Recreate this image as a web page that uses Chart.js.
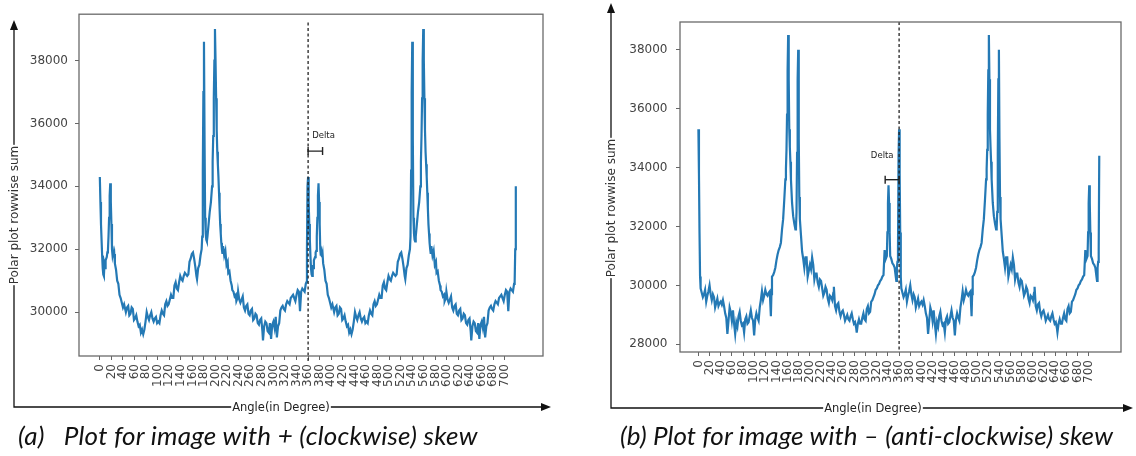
<!DOCTYPE html>
<html>
<head>
<meta charset="utf-8">
<script src="https://cdn.jsdelivr.net/npm/chart.js@4.4.1/dist/chart.umd.min.js"></script>
<style>
  body { margin: 0; background: #fff; }
  #wrap { position: relative; width: 1136px; height: 456px; background: #fff; overflow: hidden; }
  canvas { position: absolute; top: 0; }
  .cap { position: absolute; top: 420px; font-family: Lato, "Open Sans", sans-serif; font-style: italic;
         font-size: 26px; line-height: 30px; color: #111; white-space: nowrap; }
</style>
</head>
<body>
<div id="wrap">
  <canvas id="plotA" width="576" height="420" style="left:0"></canvas>
  <canvas id="plotB" width="560" height="420" style="left:576px"></canvas>
  <div class="cap" id="capA" style="left:18px;letter-spacing:0.25px">(a)<span style="margin-left:19px">Plot for image with + (clockwise) skew</span></div>
  <div class="cap" id="capB" style="left:620px;letter-spacing:0.1px">(b) Plot for image with – (anti-clockwise) skew</div>
</div>
<script>
// One turn (0-359 deg) of each signal.
// Both plots show the signal over two turns, so the second turn repeats the first.
const anglesA = [0, 1, 2, 3, 4, 5, 6, 7, 8, 9, 10, 12, 13, 14, 15, 16, 17, 18, 19, 20,
  21, 22, 23, 24, 25, 26, 28, 30, 32, 34, 36, 38, 40, 42, 45, 47, 49, 51, 53, 55,
  57, 59, 61, 63, 65, 67, 69, 71, 73, 75, 77, 79, 81, 83, 85, 87, 89, 91, 93, 95,
  97, 99, 101, 103, 105, 107, 109, 111, 113, 115, 117, 119, 121, 123, 125, 127, 129, 131, 133, 135,
  137, 139, 141, 143, 145, 147, 149, 151, 153, 155, 157, 159, 161, 163, 165, 167, 168, 170, 172, 174,
  176, 177, 178, 179, 180, 181, 182, 183, 184, 185, 186, 188, 190, 192, 194, 195, 196, 197, 198, 199,
  200, 201, 202, 203, 204, 205, 206, 207, 208, 209, 210, 211, 212, 213, 215, 217, 219, 221, 222, 224,
  226, 228, 229, 231, 233, 235, 236, 238, 239, 241, 243, 245, 247, 249, 251, 253, 255, 257, 259, 261,
  263, 265, 267, 269, 271, 273, 275, 277, 279, 281, 282, 284, 286, 288, 290, 292, 294, 296, 298, 300,
  302, 304, 306, 308, 310, 312, 314, 316, 318, 320, 322, 324, 326, 328, 330, 332, 334, 336, 338, 340,
  342, 344, 346, 348, 350, 352, 354, 356, 357, 358, 359];
const valuesA = [34300, 33500, 32800, 32300, 31800, 31400, 31200, 31150, 31500, 31400, 31650, 31750, 31900, 31950, 32400, 33000, 33700, 34100, 33500, 32800,
  32000, 31800, 31900, 31750, 31850, 31550, 31350, 31000, 30900, 30550, 30450, 30300, 30150, 30250, 30000, 30150, 30200, 29900, 29950, 30150,
  30100, 29750, 29800, 29900, 29700, 29550, 29600, 29350, 29450, 29300, 29450, 29700, 30000, 29850, 29750, 29900, 30000, 29800, 29700, 29800,
  29850, 29650, 29700, 29650, 29900, 30050, 29950, 29900, 30250, 30350, 30200, 30250, 30400, 30550, 30450, 30450, 30850, 30950, 30750, 30700,
  30950, 31150, 31050, 31000, 31150, 31250, 31200, 31150, 31200, 31600, 31700, 31850, 31900, 31700, 31450, 31150, 31050, 31400, 31500, 31800,
  32000, 32400, 34500, 37000, 38600, 35500, 33000, 32500, 32300, 32250, 32400, 32800, 33200, 33500, 34000, 34800, 35600, 36800, 38000, 39000,
  38000, 36800, 35800, 35100, 34700, 34300, 33800, 33300, 32800, 32500, 32200, 32000, 31850, 32100, 31800, 31950, 31500, 31600, 31250, 31300,
  31000, 30850, 30700, 30650, 30500, 30550, 30350, 30450, 30660, 30400, 30300, 30400, 30500, 30150, 30050, 30200, 30250, 29950, 29900, 30050,
  30100, 29750, 29800, 29950, 29900, 29650, 29600, 29750, 29800, 29400, 29100, 29550, 29700, 29650, 29400, 29350, 29650, 29150, 29600, 29700,
  29500, 29850, 29200, 29550, 29650, 30050, 30150, 30200, 30100, 30050, 30250, 30350, 30300, 30250, 30450, 30500, 30550, 30450, 30350, 30550,
  30700, 30650, 30030, 30650, 30750, 30700, 30650, 30900, 30950, 32000, 34000];

const anglesB = [0, 1, 2, 3, 4, 6, 8, 10, 12, 14, 16, 18, 20, 22, 24, 26, 28, 30, 32, 34,
  36, 38, 40, 42, 44, 46, 48, 50, 52, 54, 56, 58, 60, 62, 64, 66, 68, 70, 72, 74,
  76, 78, 80, 82, 84, 86, 88, 90, 92, 94, 96, 98, 100, 102, 104, 106, 108, 110, 112, 114,
  116, 118, 120, 122, 124, 126, 128, 130, 131, 132, 134, 136, 138, 140, 142, 144, 146, 148, 150, 152,
  154, 156, 157, 158, 159, 160, 161, 162, 163, 164, 165, 166, 168, 170, 172, 174, 175, 176, 177, 178,
  179, 180, 181, 182, 184, 186, 188, 190, 192, 194, 196, 198, 200, 202, 204, 206, 208, 210, 212, 214,
  216, 218, 220, 222, 224, 226, 228, 230, 232, 234, 236, 238, 240, 242, 243, 245, 247, 249, 251, 253,
  255, 257, 259, 261, 263, 265, 267, 269, 271, 273, 275, 277, 279, 281, 283, 284, 286, 288, 290, 292,
  294, 296, 298, 300, 302, 304, 306, 308, 310, 312, 314, 316, 318, 320, 322, 324, 326, 328, 330, 332,
  334, 336, 338, 339, 340, 341, 342, 343, 344, 346, 348, 350, 352, 354, 355, 356, 357, 358, 359];
const valuesB = [35300, 33800, 31800, 30300, 29900, 29750, 29600, 29700, 29850, 29450, 29650, 29800, 30000, 29700, 29500, 29700, 29600, 29250, 29400, 29550,
  29300, 29400, 29450, 29350, 29500, 29300, 29050, 28900, 28350, 28800, 29250, 29100, 28800, 29150, 28700, 28350, 28750, 28600, 28950, 29100,
  28800, 28650, 28700, 28400, 28850, 28950, 28700, 28750, 28950, 29150, 28900, 28800, 28300, 28850, 29050, 28900, 28800, 29250, 29500, 29800,
  29500, 29650, 29850, 29700, 29650, 29750, 29800, 28950, 29700, 30300, 30350, 30450, 30600, 30850, 31050, 31200, 31300, 31450, 31900, 32250,
  32900, 33600, 33950, 34600, 35800, 37300, 38500, 37000, 35300, 34700, 34200, 33600, 32800, 32350, 32100, 31900, 31950, 32500, 34500, 37000,
  38000, 35000, 33000, 32250, 31700, 31150, 30900, 30600, 30950, 30950, 30300, 30500, 30700, 30550, 30950, 30700, 30200, 30400, 30400, 30100,
  29950, 30200, 30150, 29900, 29650, 29750, 29950, 29850, 29550, 29400, 29650, 29600, 29500, 29750, 29950, 29300, 29150, 29350, 29400, 29100,
  28950, 29100, 29150, 29000, 28800, 28900, 29000, 28850, 28800, 28950, 29050, 28850, 28700, 28750, 28550, 28400, 28700, 28850, 28700, 28700,
  28900, 29050, 28850, 28800, 29200, 29300, 29050, 29100, 29450, 29500, 29600, 29700, 29850, 29900, 30000, 30050, 30150, 30200, 30300, 30350,
  31200, 30900, 31000, 31800, 32800, 33400, 32800, 31800, 31000, 30900, 30750, 30700, 30600, 30300, 30150, 30600, 30800, 31200, 34400];

// Delta markers: [start angle, end angle] and height
const deltaA = [360, 385];
const deltaAHeight = 35120;
const deltaB = [335, 360];
const deltaBHeight = 33590;

const xTicks = [0, 20, 40, 60, 80, 100, 120, 140, 160, 180, 200, 220, 240, 260, 280, 300, 320, 340,
  360, 380, 400, 420, 440, 460, 480, 500, 520, 540, 560, 580, 600, 620, 640, 660, 680, 700];
const yTicksA = [30000, 32000, 34000, 36000, 38000];
const yTicksB = [28000, 30000, 32000, 34000, 36000, 38000];

function twoTurns(angles, values) {
  const turn = angles.map((a, i) => ({ x: a, y: values[i] }));
  return turn.concat(turn.map(p => ({ x: p.x + 360, y: p.y })));
}

Chart.defaults.font.family = '"DejaVu Sans", sans-serif';
Chart.defaults.color = '#444';

// frame, hand-drawn axis arrows, axis titles and the "Delta" label
const figureDeco = {
  id: 'figureDeco',
  afterDraw(chart, args, o) {
    const { ctx, chartArea: a, scales: { x, y } } = chart;
    ctx.save();
    ctx.strokeStyle = '#6a6a6a';
    ctx.lineWidth = 1.3;
    ctx.strokeRect(a.left, a.top, a.right - a.left, a.bottom - a.top);

    ctx.strokeStyle = '#111';
    ctx.fillStyle = '#111';
    ctx.lineWidth = 1.3;
    ctx.beginPath();
    ctx.moveTo(o.axisX, o.arrowTop + 8);
    ctx.lineTo(o.axisX, o.axisY);
    ctx.lineTo(o.arrowRight - 8, o.axisY);
    ctx.stroke();
    ctx.beginPath();
    ctx.moveTo(o.axisX, o.arrowTop);
    ctx.lineTo(o.axisX - 4, o.arrowTop + 10);
    ctx.lineTo(o.axisX + 4, o.arrowTop + 10);
    ctx.closePath();
    ctx.fill();
    ctx.beginPath();
    ctx.moveTo(o.arrowRight, o.axisY);
    ctx.lineTo(o.arrowRight - 10, o.axisY - 4);
    ctx.lineTo(o.arrowRight - 10, o.axisY + 4);
    ctx.closePath();
    ctx.fill();

    ctx.textAlign = 'center';
    ctx.textBaseline = 'middle';
    ctx.font = '11.5px "DejaVu Sans"';
    let w = ctx.measureText(o.xTitle).width;
    ctx.fillStyle = '#fff';
    ctx.fillRect(o.xTitleX - w / 2 - 1, o.axisY - 7, w + 2, 14);
    ctx.fillStyle = '#222';
    ctx.fillText(o.xTitle, o.xTitleX, o.axisY + 1);

    ctx.translate(o.axisX, o.yTitleY);
    ctx.rotate(-Math.PI / 2);
    ctx.font = '12px "DejaVu Sans"';
    w = ctx.measureText(o.yTitle).width;
    ctx.fillStyle = '#fff';
    ctx.fillRect(-w / 2 - 1, -7, w + 2, 14);
    ctx.fillStyle = '#333';
    ctx.fillText(o.yTitle, 0, 1);
    ctx.setTransform(1, 0, 0, 1, 0, 0);

    ctx.font = '8.5px "DejaVu Sans"';
    ctx.textAlign = o.deltaAlign;
    ctx.fillStyle = '#222';
    ctx.fillText('Delta', x.getPixelForValue(o.deltaX), y.getPixelForValue(o.deltaY));
    ctx.restore();
  }
};

function makePlot(id, cfg) {
  new Chart(document.getElementById(id).getContext('2d'), {
    type: 'line',
    data: {
      datasets: [
        {
          data: cfg.points,
          borderColor: '#2479b5',
          borderWidth: 2.2,
          pointRadius: 0,
          tension: 0,
          order: 3
        },
        {
          data: [{ x: 360, y: cfg.dashTop }, { x: 360, y: cfg.dashBottom }],
          borderColor: '#222',
          borderWidth: 1.3,
          borderDash: [3, 2.5],
          pointRadius: 0,
          clip: false,
          order: 1
        },
        {
          data: cfg.delta.map(v => ({ x: v, y: cfg.deltaHeight })),
          borderColor: '#222',
          borderWidth: 1.4,
          pointStyle: 'line',
          rotation: 90,
          pointRadius: 4,
          pointBorderColor: '#222',
          pointBorderWidth: 1.4,
          order: 2
        }
      ]
    },
    options: {
      responsive: false,
      animation: false,
      events: [],
      layout: { padding: cfg.padding },
      plugins: {
        legend: { display: false },
        tooltip: { enabled: false },
        figureDeco: cfg.deco
      },
      scales: {
        x: {
          type: 'linear',
          min: cfg.xMin,
          max: cfg.xMax,
          afterBuildTicks: axis => { axis.ticks = xTicks.map(v => ({ value: v })); },
          afterFit: axis => { axis.height = cfg.xHeight; },
          ticks: {
            autoSkip: false,
            minRotation: 90,
            maxRotation: 90,
            padding: 4,
            font: { size: 12 },
            color: '#444',
            callback: v => String(v)
          },
          grid: { drawOnChartArea: false, drawTicks: true, tickLength: 4, color: '#666' },
          border: { display: false }
        },
        y: {
          min: cfg.yMin,
          max: cfg.yMax,
          afterBuildTicks: axis => { axis.ticks = cfg.yTicks.map(v => ({ value: v })); },
          afterFit: axis => { axis.width = cfg.yWidth; },
          ticks: {
            padding: cfg.yPad,
            font: { size: 12 },
            color: '#444',
            callback: v => String(v)
          },
          grid: { drawOnChartArea: false, drawTicks: true, tickLength: 4, color: '#666' },
          border: { display: false }
        }
      }
    },
    plugins: [figureDeco]
  });
}

makePlot('plotA', {
  points: twoTurns(anglesA, valuesA),
  delta: deltaA, deltaHeight: deltaAHeight,
  dashTop: 39210, dashBottom: 28450,
  xMin: -36, xMax: 766, yMin: 28606, yMax: 39473,
  yTicks: yTicksA,
  padding: { left: 0, right: 33, top: 12, bottom: 0 },
  yWidth: 79, xHeight: 64, yPad: 7,
  deco: {
    axisX: 14, axisY: 407, arrowTop: 20, arrowRight: 551,
    xTitle: 'Angle(in Degree)', xTitleX: 281,
    yTitle: 'Polar plot rowwise sum', yTitleY: 215,
    deltaX: 367, deltaY: 35620, deltaAlign: 'left'
  }
});

makePlot('plotB', {
  points: twoTurns(anglesB, valuesB),
  delta: deltaB, deltaHeight: deltaBHeight,
  dashTop: 38945, dashBottom: 27738,
  xMin: -33, xMax: 758, yMin: 27738, yMax: 38945,
  yTicks: yTicksB,
  padding: { left: 0, right: 15, top: 22, bottom: 0 },
  yWidth: 104, xHeight: 68, yPad: 8.5,
  deco: {
    axisX: 35, axisY: 408, arrowTop: 3, arrowRight: 557,
    xTitle: 'Angle(in Degree)', xTitleX: 297,
    yTitle: 'Polar plot rowwise sum', yTitleY: 208,
    deltaX: 350, deltaY: 34400, deltaAlign: 'right'
  }
});
</script>
</body>
</html>
